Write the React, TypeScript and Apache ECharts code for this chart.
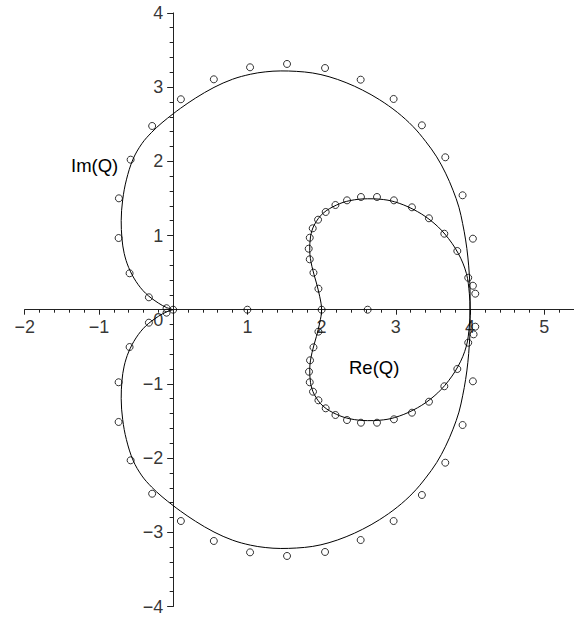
import React, { useEffect, useRef } from "react";
import * as echarts from "echarts";

// Contour of Q in the complex plane, as [Re, Im] pairs.
// Outer arc, upper half: from (4, 0) round to the cusp at the origin.
const outerUpper: [number, number][] = [
  [4.0, 0.0], [4.0, 0.24], [3.99, 0.47], [3.97, 0.71], [3.94, 0.94], [3.9, 1.16],
  [3.85, 1.38], [3.77, 1.61], [3.67, 1.84], [3.55, 2.06], [3.4, 2.27], [3.23, 2.47],
  [3.02, 2.66], [2.78, 2.83], [2.55, 2.96], [2.33, 3.06], [2.1, 3.14], [1.88, 3.19],
  [1.66, 3.212], [1.45, 3.218], [1.24, 3.205], [1.04, 3.173], [0.8, 3.106], [0.55, 2.996],
  [0.3, 2.851], [0.1, 2.715], [0.0, 2.64], [-0.15, 2.52], [-0.29, 2.39], [-0.42, 2.24],
  [-0.54, 2.03], [-0.63, 1.75], [-0.68, 1.48], [-0.7, 1.2], [-0.69, 0.96], [-0.66, 0.76],
  [-0.6, 0.57], [-0.5, 0.38], [-0.37, 0.22], [-0.2, 0.09], [-0.09, 0.03], [0.0, 0.0],
];

// Outer arc, lower half: from the origin round to (4, 0).
const outerLower: [number, number][] = [
  [0.0, 0.0], [-0.09, -0.03], [-0.2, -0.09], [-0.37, -0.22], [-0.5, -0.38], [-0.6, -0.57],
  [-0.66, -0.76], [-0.69, -0.96], [-0.7, -1.2], [-0.68, -1.48], [-0.63, -1.75], [-0.54, -2.03],
  [-0.42, -2.24], [-0.29, -2.39], [-0.15, -2.52], [0.0, -2.64], [0.1, -2.715], [0.3, -2.851],
  [0.55, -2.996], [0.8, -3.106], [1.04, -3.173], [1.24, -3.205], [1.45, -3.218], [1.66, -3.212],
  [1.88, -3.19], [2.1, -3.14], [2.33, -3.06], [2.55, -2.96], [2.78, -2.83], [3.02, -2.66],
  [3.23, -2.47], [3.4, -2.27], [3.55, -2.06], [3.67, -1.84], [3.77, -1.61], [3.85, -1.38],
  [3.9, -1.16], [3.94, -0.94], [3.97, -0.71], [3.99, -0.47], [4.0, -0.24], [4.0, 0.0],
];

// Inner loop, upper half: from (4, 0) back to (2, 0).
const innerUpper: [number, number][] = [
  [4.0, 0.0], [3.99, 0.22], [3.95, 0.49], [3.84, 0.76], [3.66, 1.02], [3.46, 1.21],
  [3.23, 1.355], [2.98, 1.455], [2.78, 1.49], [2.62, 1.495], [2.38, 1.47], [2.2, 1.41],
  [2.02, 1.3], [1.9, 1.14], [1.85, 0.98], [1.84, 0.8], [1.87, 0.58], [1.93, 0.36],
  [1.975, 0.175], [2.0, 0.0],
];

// Inner loop, lower half: from (2, 0) out to (4, 0).
const innerLower: [number, number][] = [
  [2.0, 0.0], [1.975, -0.175], [1.93, -0.36], [1.87, -0.58], [1.84, -0.8], [1.85, -0.98],
  [1.9, -1.14], [2.02, -1.3], [2.2, -1.41], [2.38, -1.47], [2.62, -1.495], [2.78, -1.49],
  [2.98, -1.455], [3.23, -1.355], [3.46, -1.21], [3.66, -1.02], [3.84, -0.76], [3.95, -0.49],
  [3.99, -0.22], [4.0, 0.0],
];

// Sampled values of Q (open circles).
const samplesOuter: [number, number][] = [
  [-0.089, 0.02], [-0.327, 0.167], [-0.587, 0.491], [-0.735, 0.966], [-0.731, 1.501],
  [-0.573, 2.022], [-0.283, 2.476], [0.104, 2.836], [0.548, 3.105], [1.036, 3.267],
  [1.534, 3.312], [2.046, 3.257], [2.526, 3.1], [2.97, 2.84], [3.351, 2.485],
  [3.666, 2.054], [3.899, 1.542], [4.038, 0.957], [4.038, 0.323], [4.07, 0.216],
  [-0.089, -0.04], [-0.327, -0.175], [-0.587, -0.503], [-0.735, -0.978], [-0.735, -1.513],
  [-0.573, -2.03], [-0.283, -2.48], [0.104, -2.848], [0.548, -3.117], [1.036, -3.27],
  [1.534, -3.319], [2.046, -3.265], [2.526, -3.104], [2.97, -2.848], [3.351, -2.497],
  [3.666, -2.062], [3.899, -1.554], [4.038, -0.965], [4.047, -0.332], [4.07, -0.229],
];

const samplesInner: [number, number][] = [
  [1.957, 0.283], [1.89, 0.499], [1.84, 0.679], [1.826, 0.822], [1.84, 0.97],
  [1.88, 1.097], [1.952, 1.213], [2.055, 1.317], [2.186, 1.411], [2.342, 1.474],
  [2.53, 1.519], [2.746, 1.519], [2.974, 1.474], [3.217, 1.38], [3.446, 1.232],
  [3.653, 1.024], [3.828, 0.791], [3.975, 0.431],
  [1.957, -0.296], [1.89, -0.507], [1.844, -0.682], [1.83, -0.836], [1.84, -0.978],
  [1.884, -1.105], [1.957, -1.221], [2.055, -1.329], [2.186, -1.419], [2.342, -1.487],
  [2.53, -1.523], [2.746, -1.523], [2.974, -1.477], [3.217, -1.388], [3.446, -1.24],
  [3.653, -1.032], [3.828, -0.799], [3.975, -0.445],
];

const samplesOnAxis: [number, number][] = [
  [0, 0], [1, 0], [2, 0], [2.62, 0],
];

// Tick labels along each axis (0 is written once, at the crossing).
const xLabelValues = [-2, -1, 1, 2, 3, 4, 5];
const yLabelValues = [-4, -3, -2, -1, 1, 2, 3, 4];

const xTicksMajor = { min: -2, max: 5.4, step: 1 };
const xTicksMinor = { min: -2, max: 5.4, step: 0.2 };
const yTicks = { min: -4, max: 4, step: 1 };

const FONT = "'Liberation Sans', Arial, Helvetica, sans-serif";
const INK = "#000";
const AXIS = "#222";

const signed = (v: number) => (v < 0 ? "\u2212" + Math.abs(v) : String(v));

// Closed contour: origin -> lower outer arc -> inner loop -> upper outer arc -> origin
const contour: [number, number][] = [
  ...outerLower,
  ...innerUpper.slice(1),
  ...innerLower.slice(1),
  ...outerUpper.slice(1),
];

export default function App() {
  const ref = useRef<HTMLDivElement>(null);

  useEffect(() => {
    if (!ref.current) return;
    const chart = echarts.init(ref.current, null, { renderer: "svg" });
    const tickLabelStyle = {
      show: true,
      fontSize: 18,
      color: INK,
      fontFamily: FONT,
    };
    chart.setOption({
      animation: false,
      backgroundColor: "#fff",
      textStyle: { fontFamily: FONT },
      grid: {
        left: 24.7,
        right: 0,
        top: 12.9,
        bottom: 12.5,
        containLabel: false,
        outerBoundsMode: "none",
      },
      xAxis: [
        {
          type: "value",
          min: xTicksMajor.min,
          max: xTicksMajor.max,
          interval: xTicksMajor.step,
          axisLine: {
            onZero: true,
            onZeroAxisIndex: 0,
            lineStyle: { color: AXIS, width: 1 },
          },
          axisTick: { show: true, length: 5, lineStyle: { color: AXIS, width: 1 } },
          axisLabel: { show: false },
          splitLine: { show: false },
        },
        {
          type: "value",
          min: xTicksMinor.min,
          max: xTicksMinor.max,
          interval: xTicksMinor.step,
          position: "bottom",
          axisLine: { show: false, onZero: true, onZeroAxisIndex: 0 },
          axisTick: { show: true, length: 3, lineStyle: { color: AXIS, width: 1 } },
          axisLabel: { show: false },
          splitLine: { show: false },
        },
      ],
      yAxis: {
        type: "value",
        min: yTicks.min,
        max: yTicks.max,
        interval: yTicks.step,
        axisLine: {
          onZero: true,
          onZeroAxisIndex: 0,
          lineStyle: { color: AXIS, width: 1 },
        },
        axisTick: { show: true, length: 6, lineStyle: { color: AXIS, width: 1 } },
        minorTick: {
          show: true,
          splitNumber: 5,
          length: 3.5,
          lineStyle: { color: AXIS, width: 1 },
        },
        axisLabel: { show: false },
        splitLine: { show: false },
        minorSplitLine: { show: false },
      },
      graphic: [
        {
          type: "text",
          left: 71,
          top: 156,
          style: { text: "Im(Q)", font: `18.5px ${FONT}`, fill: INK },
        },
        {
          type: "text",
          left: 349,
          top: 358,
          style: { text: "Re(Q)", font: `18.5px ${FONT}`, fill: INK },
        },
      ],
      series: [
        {
          type: "line",
          xAxisIndex: 0,
          yAxisIndex: 0,
          data: contour,
          showSymbol: false,
          smooth: 0.35,
          lineStyle: { color: INK, width: 1 },
          silent: true,
          z: 3,
        },
        {
          type: "scatter",
          xAxisIndex: 0,
          yAxisIndex: 0,
          data: [...samplesOuter, ...samplesInner, ...samplesOnAxis],
          symbol: "circle",
          symbolSize: 7,
          itemStyle: { color: "rgba(0,0,0,0)", borderColor: INK, borderWidth: 1 },
          silent: true,
          z: 4,
        },
        {
          // x tick labels, hung below the real axis
          type: "scatter",
          xAxisIndex: 0,
          yAxisIndex: 0,
          data: xLabelValues.map((v) => [v, 0]),
          symbolSize: 0,
          silent: true,
          z: 5,
          label: {
            ...tickLabelStyle,
            position: "bottom",
            distance: 8,
            formatter: (p: any) => signed(p.value[0]),
          },
        },
        {
          // y tick labels, left of the imaginary axis
          type: "scatter",
          xAxisIndex: 0,
          yAxisIndex: 0,
          data: yLabelValues.map((v) => [0, v]),
          symbolSize: 0,
          silent: true,
          z: 5,
          label: {
            ...tickLabelStyle,
            position: "left",
            distance: 10,
            formatter: (p: any) => signed(p.value[1]),
          },
        },
        {
          // the shared 0 at the crossing
          type: "scatter",
          xAxisIndex: 0,
          yAxisIndex: 0,
          data: [[0, 0]],
          symbolSize: 0,
          silent: true,
          z: 5,
          label: {
            ...tickLabelStyle,
            position: "left",
            distance: 10,
            offset: [0, 10],
            formatter: () => "0",
          },
        },
      ],
    });
    return () => chart.dispose();
  }, []);

  return (
    <div
      ref={ref}
      style={{ position: "absolute", left: 0, top: 0, width: 574, height: 619 }}
    />
  );
}
